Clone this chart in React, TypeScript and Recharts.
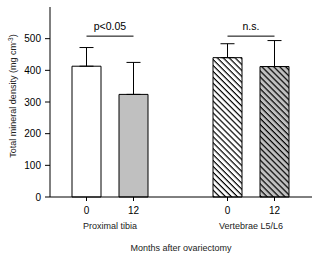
import React from "react";
import {
  BarChart,
  Bar,
  XAxis,
  YAxis,
  ErrorBar,
  Cell,
  ReferenceLine,
} from "recharts";

const categories = ["tibia0", "tibia12", "gap", "vert0", "vert12"];
const tickLabels = ["0", "12", "", "0", "12"];
const densityValues: (number | null)[] = [413, 324, null, 440, 412];
const errorUp: (number | null)[] = [59, 101, null, 44, 82];
const barFills = ["#ffffff", "#c0c0c0", "none", "url(#hatchWhite)", "url(#hatchGray)"];
const groupLabels: Record<string, string> = { tibia0: "Proximal tibia", vert0: "Vertebrae L5/L6" };
const yTicks = [0, 100, 200, 300, 400, 500];
const FONT = "Arial, 'Liberation Sans', sans-serif";

const data = categories.map((c, i) => ({
  cat: c,
  label: tickLabels[i],
  value: densityValues[i],
  err: errorUp[i] == null ? undefined : [0, errorUp[i] as number],
}));

const BAND = 47;

const XTick = (props: any) => {
  const { x, y, payload } = props;
  const idx = categories.indexOf(payload.value);
  const lab = tickLabels[idx];
  const grp = groupLabels[payload.value];
  return (
    <g>
      <text x={x} y={y + 11} textAnchor="middle" fontSize={10} fontFamily={FONT} fill="#000">
        {lab}
      </text>
      {grp ? (
        <text x={x + BAND / 2} y={y + 26} textAnchor="middle" fontSize={9} fontFamily={FONT} fill="#222">
          {grp}
        </text>
      ) : null}
    </g>
  );
};

const SigLabel = (text: string) => (props: any) => {
  const vb = props.viewBox || {};
  const cx = (vb.x ?? 0) + (vb.width ?? 0) / 2;
  return (
    <text x={cx} y={(vb.y ?? 0) - 6} textAnchor="middle" fontSize={10.5} fontFamily={FONT} fill="#000">
      {text}
    </text>
  );
};

export default function App() {
  return (
    <div style={{ position: "absolute", left: 0, top: 0, background: "#fff" }}>
      <BarChart
        width={320}
        height={262}
        data={data}
        margin={{ top: 7, right: 8, bottom: 0, left: 0 }}
        barSize={29}
      >
        <defs>
          <pattern id="hatchWhite" patternUnits="userSpaceOnUse" width="10" height="4.2" patternTransform="rotate(45)">
            <rect x="0" y="0" width="10" height="4.2" fill="#ffffff" />
            <rect x="0" y="0" width="10" height="1.2" fill="#000000" />
          </pattern>
          <pattern id="hatchGray" patternUnits="userSpaceOnUse" width="10" height="4.2" patternTransform="rotate(45)">
            <rect x="0" y="0" width="10" height="4.2" fill="#c0c0c0" />
            <rect x="0" y="0" width="10" height="1.2" fill="#000000" />
          </pattern>
        </defs>
        <XAxis
          dataKey="cat"
          type="category"
          ticks={["tibia0", "tibia12", "vert0", "vert12"]}
          interval={0}
          tick={<XTick />}
          tickSize={4}
          tickMargin={2}
          height={65}
          padding={{ left: 13, right: 14 }}
          axisLine={{ stroke: "#000" }}
          tickLine={{ stroke: "#000" }}
          label={{
            content: (p: any) => {
              const vb = p.viewBox || {};
              return (
                <text
                  x={(vb.x ?? 0) + (vb.width ?? 0) / 2}
                  y={251}
                  textAnchor="middle"
                  fontSize={9}
                  fontFamily={FONT}
                  fill="#222"
                >
                  Months after ovariectomy
                </text>
              );
            },
          }}
        />
        <XAxis
          xAxisId="top"
          dataKey="cat"
          orientation="top"
          height={0}
          tick={false}
          tickLine={false}
          axisLine={{ stroke: "#000" }}
        />
        <YAxis
          type="number"
          domain={[0, 600]}
          ticks={yTicks}
          width={50}
          tickSize={5}
          tickMargin={4}
          tick={{ fontSize: 10, fontFamily: FONT, fill: "#000" }}
          axisLine={{ stroke: "#000" }}
          tickLine={{ stroke: "#000" }}
          label={{
            content: (p: any) => {
              const vb = p.viewBox || {};
              const cy = (vb.y ?? 0) + (vb.height ?? 0) / 2 - 6;
              const cx = 16;
              return (
                <text
                  x={cx}
                  y={cy}
                  transform={`rotate(-90 ${cx} ${cy})`}
                  textAnchor="middle"
                  fontSize={9}
                  fontFamily={FONT}
                  fill="#222"
                >
                  Total mineral density (mg cm
                  <tspan fontSize={6.5} dy={-3.5}>-3</tspan>
                  <tspan dy={3.5}>)</tspan>
                </text>
              );
            },
          }}
        />
        <YAxis
          yAxisId="right"
          orientation="right"
          type="number"
          domain={[0, 600]}
          width={0}
          tick={false}
          tickLine={false}
          axisLine={{ stroke: "#000" }}
        />
        <Bar dataKey="value" stroke="#000" strokeWidth={1} isAnimationActive={false}>
          {data.map((d, i) => (
            <Cell key={d.cat} fill={barFills[i]} />
          ))}
          <ErrorBar dataKey="err" direction="y" width={7} stroke="#000" strokeWidth={1} isAnimationActive={false} />
        </Bar>
        <ReferenceLine
          segment={[
            { x: "tibia0", y: 508 },
            { x: "tibia12", y: 508 },
          ]}
          stroke="#000"
          label={{ content: SigLabel("p<0.05") }}
        />
        <ReferenceLine
          segment={[
            { x: "vert0", y: 508 },
            { x: "vert12", y: 508 },
          ]}
          stroke="#000"
          label={{ content: SigLabel("n.s.") }}
        />
      </BarChart>
    </div>
  );
}
